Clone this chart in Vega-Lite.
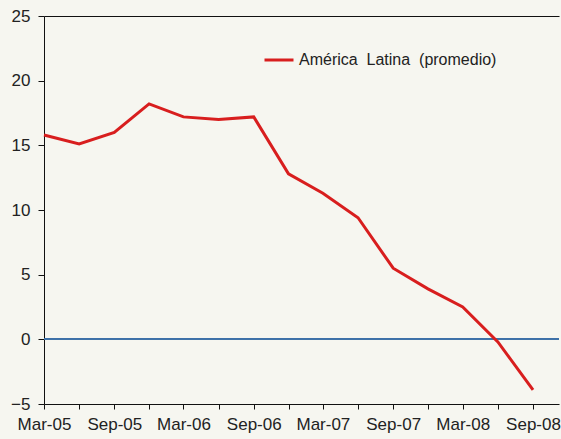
{
  "$schema": "https://vega.github.io/schema/vega-lite/v6.json",
  "width": 515,
  "height": 388,
  "autosize": {"type": "none"},
  "padding": {"left": 44, "top": 16, "right": 2, "bottom": 35},
  "background": "#f6f6f0",
  "config": {
    "view": {"stroke": null},
    "font": "Liberation Sans",
    "axis": {"labelFont": "Liberation Sans", "labelFontSize": 17, "labelColor": "#222", "domainColor": "#111", "tickColor": "#111", "grid": false, "title": null}
  },
  "data": {
    "values": [
      {"date": "2005-03-01", "value": 15.8, "serie": "América\u00a0 Latina\u00a0 (promedio)"},
      {"date": "2005-06-01", "value": 15.1, "serie": "América\u00a0 Latina\u00a0 (promedio)"},
      {"date": "2005-09-01", "value": 16.0, "serie": "América\u00a0 Latina\u00a0 (promedio)"},
      {"date": "2005-12-01", "value": 18.2, "serie": "América\u00a0 Latina\u00a0 (promedio)"},
      {"date": "2006-03-01", "value": 17.2, "serie": "América\u00a0 Latina\u00a0 (promedio)"},
      {"date": "2006-06-01", "value": 17.0, "serie": "América\u00a0 Latina\u00a0 (promedio)"},
      {"date": "2006-09-01", "value": 17.2, "serie": "América\u00a0 Latina\u00a0 (promedio)"},
      {"date": "2006-12-01", "value": 12.8, "serie": "América\u00a0 Latina\u00a0 (promedio)"},
      {"date": "2007-03-01", "value": 11.3, "serie": "América\u00a0 Latina\u00a0 (promedio)"},
      {"date": "2007-06-01", "value": 9.4, "serie": "América\u00a0 Latina\u00a0 (promedio)"},
      {"date": "2007-09-01", "value": 5.5, "serie": "América\u00a0 Latina\u00a0 (promedio)"},
      {"date": "2007-12-01", "value": 3.9, "serie": "América\u00a0 Latina\u00a0 (promedio)"},
      {"date": "2008-03-01", "value": 2.5, "serie": "América\u00a0 Latina\u00a0 (promedio)"},
      {"date": "2008-06-01", "value": -0.2, "serie": "América\u00a0 Latina\u00a0 (promedio)"},
      {"date": "2008-09-01", "value": -3.9, "serie": "América\u00a0 Latina\u00a0 (promedio)"}
    ]
  },
  "layer": [
    {
      "mark": {"type": "rule", "color": "#3f72a8", "strokeWidth": 1.2},
      "encoding": {
        "y": {"datum": 0, "type": "quantitative"}
      }
    },
    {
      "mark": {"type": "line", "strokeWidth": 3},
      "encoding": {
        "x": {
          "field": "date", "type": "temporal",
          "scale": {"type": "utc", "domain": [{"year": 2005, "month": 3, "date": 1, "utc": true}, {"year": 2008, "month": 11, "date": 8, "utc": true}]},
          "axis": {
            "values": [
              {"year": 2005, "month": 3, "date": 1, "utc": true}, {"year": 2005, "month": 6, "date": 1, "utc": true},
              {"year": 2005, "month": 9, "date": 1, "utc": true}, {"year": 2005, "month": 12, "date": 1, "utc": true},
              {"year": 2006, "month": 3, "date": 1, "utc": true}, {"year": 2006, "month": 6, "date": 1, "utc": true},
              {"year": 2006, "month": 9, "date": 1, "utc": true}, {"year": 2006, "month": 12, "date": 1, "utc": true},
              {"year": 2007, "month": 3, "date": 1, "utc": true}, {"year": 2007, "month": 6, "date": 1, "utc": true},
              {"year": 2007, "month": 9, "date": 1, "utc": true}, {"year": 2007, "month": 12, "date": 1, "utc": true},
              {"year": 2008, "month": 3, "date": 1, "utc": true}, {"year": 2008, "month": 6, "date": 1, "utc": true},
              {"year": 2008, "month": 9, "date": 1, "utc": true}
            ],
            "labelExpr": "utcmonth(datum.value) % 6 == 2 ? utcFormat(datum.value, '%b-%y') : ''",
            "tickSize": 5, "labelPadding": 7, "labelFlush": false, "labelOverlap": false
          }
        },
        "y": {
          "field": "value", "type": "quantitative",
          "scale": {"domain": [-5, 25], "nice": false},
          "axis": {"values": [-5, 0, 5, 10, 15, 20, 25], "tickSize": 6, "labelPadding": 8}
        },
        "color": {
          "field": "serie", "type": "nominal",
          "scale": {"range": ["#d81e1e"]},
          "legend": {
            "orient": "none", "legendX": 219, "legendY": 28, "title": null,
            "symbolType": "stroke", "symbolSize": 841, "symbolStrokeWidth": 3, "symbolStrokeColor": "#b5202c",
            "labelFontSize": 16, "labelColor": "#222", "labelFont": "Liberation Sans", "labelOffset": 4, "labelLimit": 400
          }
        }
      }
    },
    {
      "mark": {"type": "rule", "opacity": 0},
      "data": {"values": [{"d": "2005-03-01"}]},
      "encoding": {
        "x": {"field": "d", "type": "temporal", "scale": {"type": "utc"}, "axis": {"orient": "top", "labels": false, "ticks": false, "domainColor": "#111"}}
      }
    }
  ],
  "resolve": {"axis": {"x": "independent"}}
}
